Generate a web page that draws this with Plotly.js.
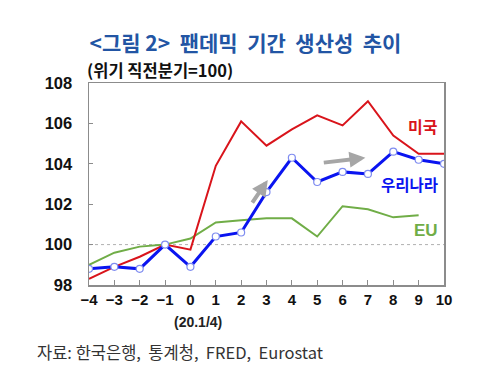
<!DOCTYPE html>
<html><head><meta charset="utf-8">
<script src="https://cdn.plot.ly/plotly-3.0.1.min.js"></script>
<style>html,body{margin:0;padding:0;background:#fff}#chart{width:491px;height:376px}</style>
</head><body><div id="chart"></div>
<script>
const quarters = [-4,-3,-2,-1,0,1,2,3,4,5,6,7,8,9,10];
const tickLabels = ['−4','−3','−2','−1','0','1','2','3','4','5','6','7','8','9','10'];
const korea = [98.8,98.9,98.8,100.0,98.9,100.4,100.6,102.6,104.3,103.1,103.6,103.5,104.6,104.2,104.0];
const usa   = [98.3,98.9,99.4,100.0,99.75,103.9,106.1,104.9,105.7,106.4,105.9,107.1,105.4,104.5,104.5];
const eu    = [99.0,99.6,99.9,100.0,100.3,101.1,101.2,101.3,101.3,100.4,101.9,101.75,101.35,101.45,null];

const KR = '"Noto Sans CJK KR", "Liberation Sans", sans-serif';
const AR = '"Liberation Sans", Arial, sans-serif';
const S = '\u00a0';
const traces = [
  {x: quarters, y: eu, mode:'lines', line:{color:'#70ad47', width:2}, hoverinfo:'skip'},
  {x: quarters, y: usa, mode:'lines', line:{color:'#d9141b', width:2}, hoverinfo:'skip'},
  {x: quarters, y: korea, mode:'lines+markers', line:{color:'#0a14f0', width:3},
   marker:{size:7, color:'#ffffff', line:{color:'#7f8cf0', width:1.2}}, hoverinfo:'skip'}
];
const layout = {
  width:491, height:376, showlegend:false,
  paper_bgcolor:'#ffffff', plot_bgcolor:'#ffffff',
  margin:{l:89, r:47, t:83, b:91},
  title:{text:'<그림'+S+'2>'+S+S+'팬데믹'+S+S+'기간'+S+S+'생산성'+S+S+'추이', x:0.5, xanchor:'center', y:0.885, yanchor:'middle',
    font:{family:KR, size:21, color:'#2255a4', weight:'bold'}},
  xaxis:{range:[-4,10], tickvals:quarters, ticktext:tickLabels, showgrid:false, zeroline:false,
    showline:true, linecolor:'#8c8c8c', linewidth:1.5, mirror:true,
    ticks:'inside', ticklen:5, tickcolor:'#8c8c8c',
    tickfont:{family:AR, size:15, color:'#111', weight:'bold'}},
  yaxis:{range:[98,108], tickvals:[98,100,102,104,106,108], showgrid:false, zeroline:false,
    showline:true, linecolor:'#8c8c8c', linewidth:1.5, mirror:true, ticks:'inside', ticklen:4, tickcolor:'#8c8c8c',
    ticklabelstandoff:12,
    tickfont:{family:AR, size:16.5, color:'#111', weight:'bold'}},
  shapes:[{type:'line', xref:'x', yref:'y', x0:-4, x1:10, y0:100, y1:100,
    line:{color:'#b0b0b0', width:1, dash:'dot'}, layer:'below'}],
  annotations:[
    {text:'(위기'+S+'직전분기=100)', xref:'paper', yref:'paper', x:0, xshift:-4, y:1.0, xanchor:'left', yanchor:'bottom', yshift:-1,
     showarrow:false, font:{family:KR, size:16.5, color:'#111', weight:'bold'}},
    {text:'미국', xref:'x', yref:'y', x:9.85, y:105.85, xanchor:'right', yanchor:'middle', showarrow:false,
     font:{family:KR, size:16, color:'#d9141b', weight:'bold'}},
    {text:'우리나라', xref:'x', yref:'y', x:9.85, y:103.0, xanchor:'right', yanchor:'middle', showarrow:false,
     font:{family:KR, size:15.5, color:'#0a14f0', weight:'bold'}},
    {text:'EU', xref:'x', yref:'y', x:9.85, y:100.7, xanchor:'right', yanchor:'middle', showarrow:false,
     font:{family:AR, size:17, color:'#70ad47', weight:'bold'}},
    {text:'(20.1/4)', xref:'x', yref:'paper', x:0.3, y:0, yshift:-37, xanchor:'center', yanchor:'middle', showarrow:false,
     font:{family:AR, size:14, color:'#222', weight:'bold'}},
    {text:'자료:'+S+'한국은행,'+S+S+'통계청,'+S+S+'FRED,'+S+S+'Eurostat', xref:'paper', yref:'paper', x:-0.152, xanchor:'left',
     y:0, yshift:-67, yanchor:'middle', showarrow:false, font:{family:KR, size:16.5, color:'#333'}},
    {x:3.05, y:103.2, xref:'x', yref:'y', ax:2.4, ay:102.0, axref:'x', ayref:'y', showarrow:true, text:'',
     arrowcolor:'#a6a6a6', arrowwidth:4, arrowhead:2, arrowsize:0.8},
    {x:6.9, y:104.3, xref:'x', yref:'y', ax:5.2, ay:104.05, axref:'x', ayref:'y', showarrow:true, text:'',
     arrowcolor:'#a6a6a6', arrowwidth:4, arrowhead:2, arrowsize:0.8}
  ]
};
Plotly.newPlot('chart', traces, layout, {displayModeBar:false, staticPlot:true});
</script></body></html>
